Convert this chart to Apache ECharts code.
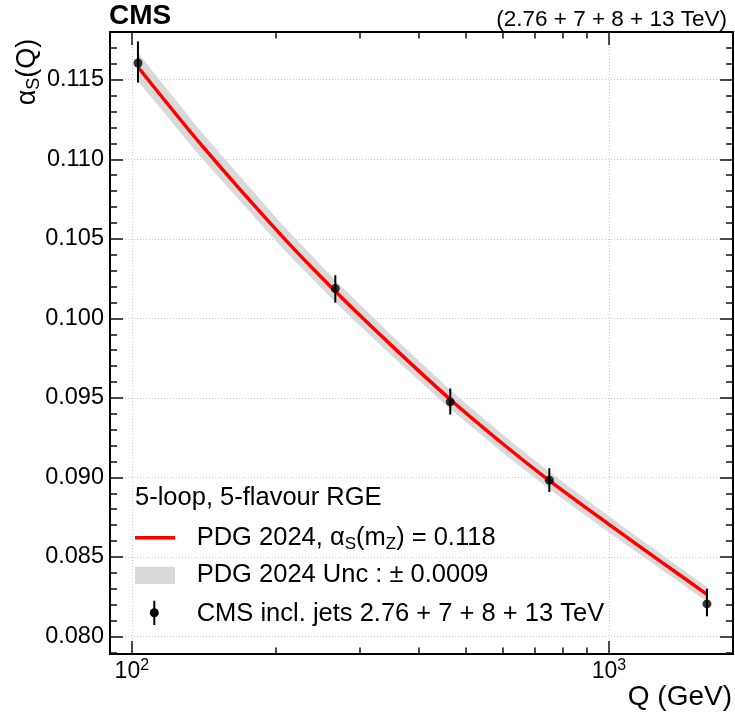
<!DOCTYPE html>
<html><head><meta charset="utf-8">
<script src="https://cdn.jsdelivr.net/npm/echarts@6/dist/echarts.min.js"></script>
<style>html,body{margin:0;padding:0;background:#fff}#c{width:735px;height:718px}</style>
</head><body><div id="c"></div>
<script>
// CMS data points (Q in GeV, alpha_s, asymmetric errors)
const cmsQ = [103, 267, 465, 750, 1605];
const cmsAlpha = [0.11605, 0.10187, 0.09475, 0.08983, 0.08205];
const cmsErrUp = [0.00136, 0.00084, 0.00084, 0.00075, 0.00096];
const cmsErrDown = [0.00123, 0.00088, 0.00080, 0.00074, 0.00078];

// PDG 2024 RGE curve
const rgeQ = [103, 139, 206, 267, 350, 465, 600, 750, 1000, 1300, 1605];
const rgeAlpha = [0.1158, 0.1110, 0.1052, 0.1017, 0.0983, 0.0949, 0.0921, 0.0898, 0.08705, 0.0846, 0.08265];
const rgeUpper = [0.11667, 0.11180, 0.10591, 0.10237, 0.09892, 0.09548, 0.09265, 0.09032, 0.08754, 0.08506, 0.08309];
const rgeLower = [0.11493, 0.11020, 0.10449, 0.10103, 0.09768, 0.09432, 0.09155, 0.08928, 0.08656, 0.08414, 0.08221];

// ticks
const xMajorTicks = [100, 1000];
const xMinorTicks = [200, 300, 400, 500, 600, 700, 800, 900];
const yMajorTicks = [0.080, 0.085, 0.090, 0.095, 0.100, 0.105, 0.110, 0.115];
const yMinorTicks = [0.079, 0.081, 0.082, 0.083, 0.084, 0.086, 0.087, 0.088, 0.089,
  0.091, 0.092, 0.093, 0.094, 0.096, 0.097, 0.098, 0.099, 0.101, 0.102, 0.103, 0.104,
  0.106, 0.107, 0.108, 0.109, 0.111, 0.112, 0.113, 0.114, 0.116, 0.117];

const FONT = '"Liberation Sans", Arial, Helvetica, sans-serif';
const X_MIN = 90, X_MAX = 1820, Y_MIN = 0.0789, Y_MAX = 0.1180;

function xAx(pos, ticks, len, main) {
  return {
    type: 'log', logBase: 10, min: X_MIN, max: X_MAX, position: pos, gridIndex: 0,
    axisLine: { show: main, onZero: false, lineStyle: { color: '#000', width: 2 } },
    axisTick: { show: true, inside: true, length: len, customValues: ticks, lineStyle: { color: '#111', width: 1.5 } },
    axisLabel: (main && pos === 'bottom') ? {
      show: true, customValues: xMajorTicks, margin: 4,
      formatter: v => '{b|10}{s|' + Math.round(Math.log10(v)) + '}',
      rich: {
        b: { fontFamily: FONT, fontSize: 23, color: '#000', lineHeight: 27 },
        s: { fontFamily: FONT, fontSize: 16, color: '#000', lineHeight: 10, verticalAlign: 'top' }
      }
    } : { show: false },
    splitLine: (main && pos === 'bottom') ? { show: true, lineStyle: { color: '#c8c8c8', type: [1, 2], width: 1 } } : { show: false },
    minorTick: { show: false }, minorSplitLine: { show: false }
  };
}
function yAx(pos, ticks, len, main) {
  return {
    type: 'value', min: Y_MIN, max: Y_MAX, splitNumber: 8, position: pos, gridIndex: 0,
    axisLine: { show: main, onZero: false, lineStyle: { color: '#000', width: 2 } },
    axisTick: { show: true, inside: true, length: len, customValues: ticks, lineStyle: { color: '#111', width: 1.5 } },
    axisLabel: (main && pos === 'left') ? {
      show: true, customValues: yMajorTicks, margin: 6,
      fontFamily: FONT, fontSize: 23.5, color: '#000',
      formatter: v => v.toFixed(3)
    } : { show: false },
    splitLine: (main && pos === 'left') ? { show: true, lineStyle: { color: '#c8c8c8', type: [1, 2], width: 1 } } : { show: false },
    minorTick: { show: false }, minorSplitLine: { show: false }
  };
}

const chart = echarts.init(document.getElementById('c'), null, { renderer: 'canvas' });
const sub = (size) => ({ fontFamily: FONT, fontSize: size, color: '#000', lineHeight: 10, verticalAlign: 'bottom' });

chart.setOption({
  animation: false,
  backgroundColor: '#fff',
  grid: { left: 110, right: 2, top: 32, bottom: 64, containLabel: false },
  xAxis: [
    xAx('bottom', xMajorTicks, 13, true),
    xAx('bottom', xMinorTicks, 6.5, false),
    xAx('top', xMajorTicks, 13, true),
    xAx('top', xMinorTicks, 6.5, false)
  ],
  yAxis: [
    yAx('left', yMajorTicks, 13, true),
    yAx('left', yMinorTicks, 7, false),
    yAx('right', yMajorTicks, 13, true),
    yAx('right', yMinorTicks, 7, false)
  ],
  series: [
    {
      name: 'PDG 2024 Unc', type: 'custom', xAxisIndex: 0, yAxisIndex: 0, z: 2, silent: true,
      data: rgeQ.map((q, i) => [q, rgeUpper[i], rgeLower[i]]),
      encode: { x: 0, y: [1, 2] },
      renderItem: (params, api) => {
        if (params.dataIndex !== 0) return null;
        const pts = [];
        for (let i = 0; i < rgeQ.length; i++) pts.push(api.coord([rgeQ[i], rgeUpper[i]]));
        for (let i = rgeQ.length - 1; i >= 0; i--) pts.push(api.coord([rgeQ[i], rgeLower[i]]));
        return { type: 'polygon', shape: { points: pts }, style: { fill: '#d9d9d9', stroke: '#d9d9d9', lineWidth: 0.5, lineJoin: 'round' } };
      }
    },
    {
      name: 'PDG 2024', type: 'line', xAxisIndex: 0, yAxisIndex: 0, z: 3,
      data: rgeQ.map((q, i) => [q, rgeAlpha[i]]), symbol: 'none', smooth: 0.3,
      lineStyle: { color: '#ff0000', width: 3.5, join: 'round' }
    },
    {
      name: 'CMS err', type: 'custom', xAxisIndex: 0, yAxisIndex: 0, z: 4,
      data: cmsQ.map((q, i) => [q, cmsAlpha[i] + cmsErrUp[i], cmsAlpha[i] - cmsErrDown[i]]),
      encode: { x: 0, y: [1, 2] },
      renderItem: (params, api) => {
        const p1 = api.coord([api.value(0), api.value(1)]);
        const p2 = api.coord([api.value(0), api.value(2)]);
        return { type: 'line', shape: { x1: p1[0], y1: p1[1], x2: p2[0], y2: p2[1] }, style: { stroke: '#000', lineWidth: 2 } };
      }
    },
    {
      name: 'CMS', type: 'scatter', xAxisIndex: 0, yAxisIndex: 0, z: 5,
      data: cmsQ.map((q, i) => [q, cmsAlpha[i]]), symbol: 'circle', symbolSize: 9,
      itemStyle: { color: '#000' }
    }
  ],
  graphic: [
    { type: 'text', x: 109, y: 16, style: { text: 'CMS', font: 'bold 28px ' + FONT, fill: '#000', align: 'left', verticalAlign: 'middle' } },
    { type: 'text', x: 727, y: 20, style: { text: '(2.76 + 7 + 8 + 13 TeV)', font: '22.5px ' + FONT, fill: '#000', align: 'right', verticalAlign: 'middle' } },
    { type: 'text', x: 732, y: 697, style: { text: 'Q (GeV)', font: '28px ' + FONT, fill: '#000', align: 'right', verticalAlign: 'middle' } },
    {
      type: 'group', x: 28, y: 72, rotation: Math.PI / 2,
      children: [{
        type: 'text', style: {
          text: '{a|α}{s|S}{a|(Q)}', align: 'center', verticalAlign: 'middle',
          rich: { a: { fontFamily: FONT, fontSize: 27, color: '#000', lineHeight: 30 }, s: sub(18) }
        }
      }]
    },
    // legend
    { type: 'text', x: 135, y: 497.5, style: { text: '5-loop, 5-flavour RGE', font: '25.5px ' + FONT, fill: '#000', align: 'left', verticalAlign: 'middle' } },
    { type: 'line', shape: { x1: 135, y1: 537.7, x2: 175, y2: 537.7 }, style: { stroke: '#ff0000', lineWidth: 3.5 } },
    {
      type: 'text', x: 196.7, y: 538, style: {
        text: '{t|PDG 2024, α}{s|S}{t|(m}{s|Z}{t|) = 0.118}', align: 'left', verticalAlign: 'middle',
        rich: { t: { fontFamily: FONT, fontSize: 25.5, color: '#000', lineHeight: 30 }, s: sub(17) }
      }
    },
    { type: 'rect', shape: { x: 135, y: 566.7, width: 40, height: 17.3 }, style: { fill: '#d9d9d9' } },
    { type: 'text', x: 196.7, y: 574.5, style: { text: 'PDG 2024 Unc : ± 0.0009', font: '25.5px ' + FONT, fill: '#000', align: 'left', verticalAlign: 'middle' } },
    { type: 'line', shape: { x1: 154.3, y1: 600.7, x2: 154.3, y2: 625 }, style: { stroke: '#000', lineWidth: 2 } },
    { type: 'circle', shape: { cx: 154.3, cy: 612.7, r: 4.5 }, style: { fill: '#000' } },
    { type: 'text', x: 196.7, y: 614, style: { text: 'CMS incl. jets 2.76 + 7 + 8 + 13 TeV', font: '25.5px ' + FONT, fill: '#000', align: 'left', verticalAlign: 'middle' } }
  ]
});
</script></body></html>
